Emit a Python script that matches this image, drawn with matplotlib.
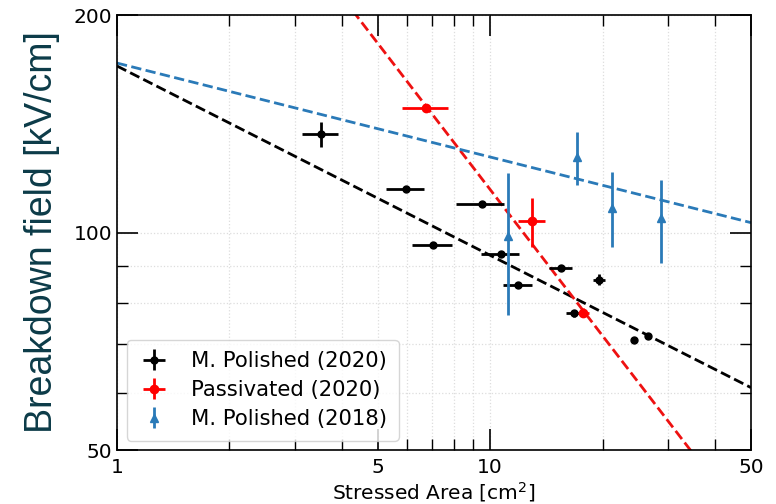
import numpy as np
import matplotlib
matplotlib.use('Agg')
import matplotlib.pyplot as plt
from matplotlib.ticker import FixedLocator, NullFormatter

# M. Polished (2020)
mp20_x = [3.52, 5.95, 9.52, 7.03, 10.7, 11.9, 15.5, 19.6, 16.8, 24.3, 26.4]
mp20_xerr = [0.39, 0.7, 1.4, 0.87, 1.28, 1.06, 1.1, 0.7, 0.8, 0.3, 0.3]
mp20_y = [136.8, 115.0, 109.4, 96.2, 93.3, 84.7, 89.4, 86.0, 77.3, 71.0, 71.9]
mp20_yerr = [5.6, 0.8, 0.8, 0.8, 0.8, 0.8, 0.8, 1.5, 0.8, 0.6, 0.6]

# Passivated (2020)
pa20_x = [6.74, 12.96, 17.76]
pa20_xerr = [0.95, 1.1, 0.6]
pa20_y = [148.6, 103.6, 77.5]
pa20_yerr = [1.0, 8.0, 1.2]

# M. Polished (2018)
mp18_x = [11.17, 17.11, 21.2, 28.7]
mp18_y = [99.0, 127.1, 108.3, 104.6]
mp18_yerr = [22.0, 10.6, 12.8, 13.8]

# power law fits  y = a * x**b
fit_black = (170.0, -0.262)
fit_red = (538.8, -0.672)
fit_blue = (171.6, -0.130)

fig = plt.figure(figsize=(7.76, 5.04), dpi=100)
ax = fig.add_axes([0.1508, 0.1071, 0.817, 0.8631])

xs = np.logspace(0, np.log10(50), 200)
ax.plot(xs, fit_black[0] * xs ** fit_black[1], '--', color='black', lw=2)
ax.plot(xs, fit_red[0] * xs ** fit_red[1], '--', color='#ee1111', lw=2)
ax.plot(xs, fit_blue[0] * xs ** fit_blue[1], '--', color='#2a7ab8', lw=2)

ax.errorbar(mp20_x, mp20_y, xerr=mp20_xerr, yerr=mp20_yerr, fmt='o', color='black',
            ms=5, elinewidth=2, capsize=0, label='M. Polished (2020)')
ax.errorbar(pa20_x, pa20_y, xerr=pa20_xerr, yerr=pa20_yerr, fmt='o', color='#ff0000',
            ms=6, elinewidth=2, capsize=0, label='Passivated (2020)')
ax.errorbar(mp18_x, mp18_y, yerr=mp18_yerr, fmt='^', color='#2a7ab8',
            ms=6, elinewidth=2, capsize=0, label='M. Polished (2018)')

ax.set_xscale('log')
ax.set_yscale('log')
ax.set_xlim(1, 50)
ax.set_ylim(50, 200)

ax.xaxis.set_major_locator(FixedLocator([1, 5, 10, 50]))
ax.xaxis.set_minor_locator(FixedLocator([2, 3, 4, 6, 7, 8, 9, 20, 30, 40]))
ax.set_xticklabels(['1', '5', '10', '50'])
ax.xaxis.set_minor_formatter(NullFormatter())
ax.yaxis.set_major_locator(FixedLocator([50, 100, 200]))
ax.yaxis.set_minor_locator(FixedLocator([60, 70, 80, 90]))
ax.set_yticklabels(['50', '100', '200'])
ax.yaxis.set_minor_formatter(NullFormatter())

ax.tick_params(which='both', direction='in', top=True, right=True, labelsize=14.5)
ax.tick_params(which='major', length=15, width=1.2)
ax.tick_params(which='minor', length=8, width=1)
ax.tick_params(axis='x', pad=6)

ax.grid(which='both', linestyle=':', color='#dddddd', lw=0.9)
for s in ax.spines.values():
    s.set_linewidth(1.2)

ax.set_xlabel('Stressed Area [cm$^2$]', fontsize=14.5, labelpad=2)
ax.set_ylabel('Breakdown field [kV/cm]', fontsize=27, family='Liberation Sans',
              color='#0c3b48', labelpad=10)

ax.legend(loc='lower left', fontsize=15.2, handlelength=1.5, handletextpad=1.0,
          borderpad=0.55, labelspacing=0.42, borderaxespad=0.45,
          frameon=True, fancybox=True, edgecolor='#cccccc')

fig.savefig('out.png', dpi=100)
